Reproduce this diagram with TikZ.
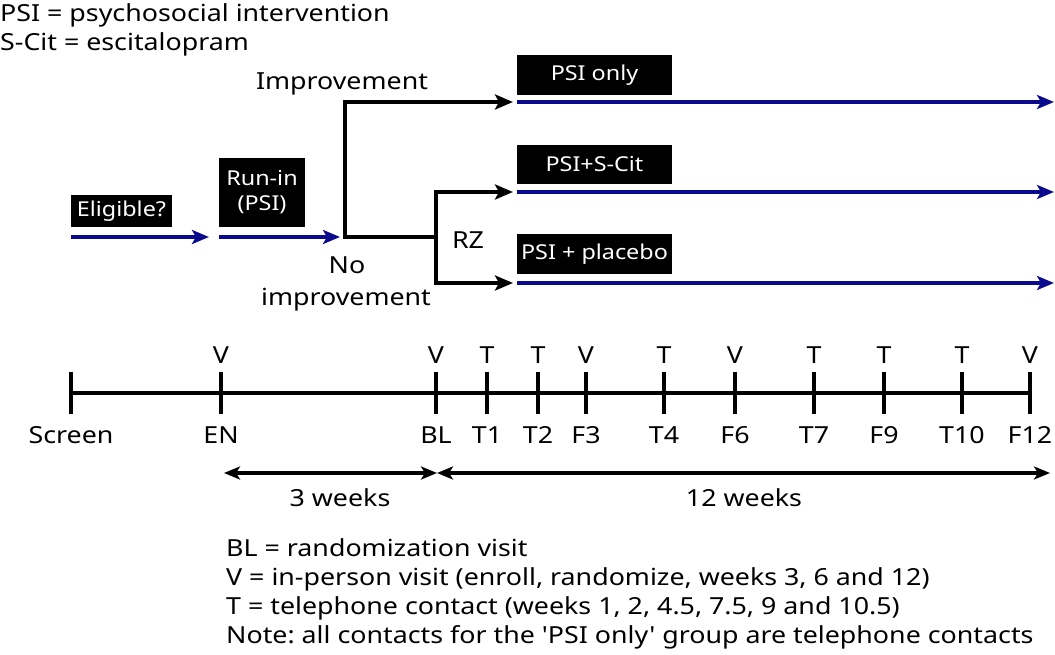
\documentclass[tikz,border=0pt]{standalone}
\usepackage{fontspec}
\setmainfont{Noto Sans}[FakeStretch=1.14,Ligatures=TeXOff]
\usetikzlibrary{arrows.meta}
\definecolor{navy}{RGB}{10,10,140}
\frenchspacing
\begin{document}
\begin{tikzpicture}[x=1pt,y=-1pt,
  txt/.style={inner sep=0pt,font=\fontsize{23.5}{28}\selectfont},
  blackbox/.style={fill=black,text=white,inner sep=0pt,font=\fontsize{20.5}{25}\selectfont,align=center},
  bluearrow/.style={draw=navy,line width=4pt,-{Stealth[length=17pt,width=14pt,inset=4pt]}},
  blackarrow/.style={draw=black,line width=4pt,-{Stealth[length=18pt,width=15pt,inset=4pt]}},
  blackline/.style={draw=black,line width=4pt},
  dblarrow/.style={draw=black,line width=4pt,{Stealth[length=16pt,width=13pt,inset=4pt]}-{Stealth[length=16pt,width=13pt,inset=4pt]}},
  tick/.style={draw=black,line width=4pt}]
\useasboundingbox (0,0) rectangle (1055,655);

% legend
\node[txt,anchor=base west] (leg1) at (0,22) {PSI = psychosocial intervention};
\node[txt,anchor=base west] (leg2) at (0,51) {S-Cit = escitalopram};

% boxes
\node[blackbox,minimum width=101pt,minimum height=32pt] (elig) at (121.5,211) {Eligible?};
\node[blackbox,minimum width=86pt,minimum height=69pt] (runin) at (262,192.5) {Run-in\\(PSI)};
\node[blackbox,minimum width=155pt,minimum height=40pt] (psionly) at (594.5,75) {PSI only};
\node[blackbox,minimum width=155pt,minimum height=39pt] (psicit) at (594.5,164.5) {PSI+S-Cit};
\node[blackbox,minimum width=155pt,minimum height=40pt] (psipla) at (594.5,254) {PSI + placebo};

% coordinates of flow
\coordinate (e0) at (71,237);
\coordinate (e1) at (209,237);
\coordinate (r0) at (219,237);
\coordinate (r1) at (340,237);
\coordinate (split) at (345,237);
\coordinate (imptop) at (345,102);
\coordinate (rz) at (436,237);
\coordinate (rztop) at (436,192);
\coordinate (rzbot) at (436,283);
\coordinate (a0) at (517,102);
\coordinate (a1) at (1054,102);
\coordinate (b0) at (517,192);
\coordinate (b1) at (1054,192);
\coordinate (c0) at (517,283);
\coordinate (c1) at (1054,283);
\coordinate (ai) at (513,102);
\coordinate (bi) at (513,192);
\coordinate (ci) at (513,283);

\draw[bluearrow] (e0) -- (e1);
\draw[bluearrow] (r0) -- (r1);
\draw[bluearrow] (a0) -- (a1);
\draw[bluearrow] (b0) -- (b1);
\draw[bluearrow] (c0) -- (c1);

\draw[blackarrow] (split) -- (imptop) -- (ai);
\draw[blackline] ([xshift=-2pt]split) -- (rz);
\draw[blackline] (rztop) -- (rzbot);
\draw[blackarrow] ([yshift=2pt]rztop) -- (rztop) -- (bi);
\draw[blackarrow] ([yshift=-2pt]rzbot) -- (rzbot) -- (ci);

\node[txt,anchor=base] (improv) at (342,90) {Improvement};
\node[txt,anchor=base] (no) at (347,273) {No};
\node[txt,anchor=base] (noimp) at (346,305) {improvement};
\node[txt,anchor=base] (rzl) at (468,248) {RZ};

% timeline
\coordinate (tl0) at (71,393);
\coordinate (tl1) at (1030,393);
\draw[blackline] (tl0) -- (tl1);
\foreach \n/\x/\top/\bot in {sc/71//Screen, en/221/V/EN, bl/436/V/BL, t1/487/T/T1, t2/538/T/T2, f3/586/V/F3, t4/664/T/T4, f6/735/V/F6, t7/814/T/T7, f9/884/T/F9, t10/962/T/T10, f12/1030/V/F12}{
  \coordinate (\n a) at (\x,372);
  \coordinate (\n b) at (\x,414);
  \draw[tick] (\n a) -- (\n b);
  \node[txt,anchor=base] (\n top) at (\x,363) {\top};
  \node[txt,anchor=base] (\n bot) at (\x,443) {\bot};
}

\coordinate (w0) at (224,473);
\coordinate (w1) at (437,473);
\coordinate (w2) at (1050,473);
\draw[dblarrow] (w0) -- (w1);
\draw[dblarrow] (w1) -- (w2);
\node[txt,anchor=base] (w3lab) at (340,506) {3 weeks};
\node[txt,anchor=base] (w12lab) at (744,506) {12 weeks};

% notes
\node[txt,anchor=base west] (n1) at (226,556) {BL = randomization visit};
\node[txt,anchor=base west] (n2) at (226,585) {V = in-person visit (enroll, randomize, weeks 3, 6 and 12)};
\node[txt,anchor=base west] (n3) at (226,614) {T = telephone contact (weeks 1, 2, 4.5, 7.5, 9 and 10.5)};
\node[txt,anchor=base west] (n4) at (226,643) {Note: all contacts for the 'PSI only' group are telephone contacts};
\end{tikzpicture}
\end{document}
